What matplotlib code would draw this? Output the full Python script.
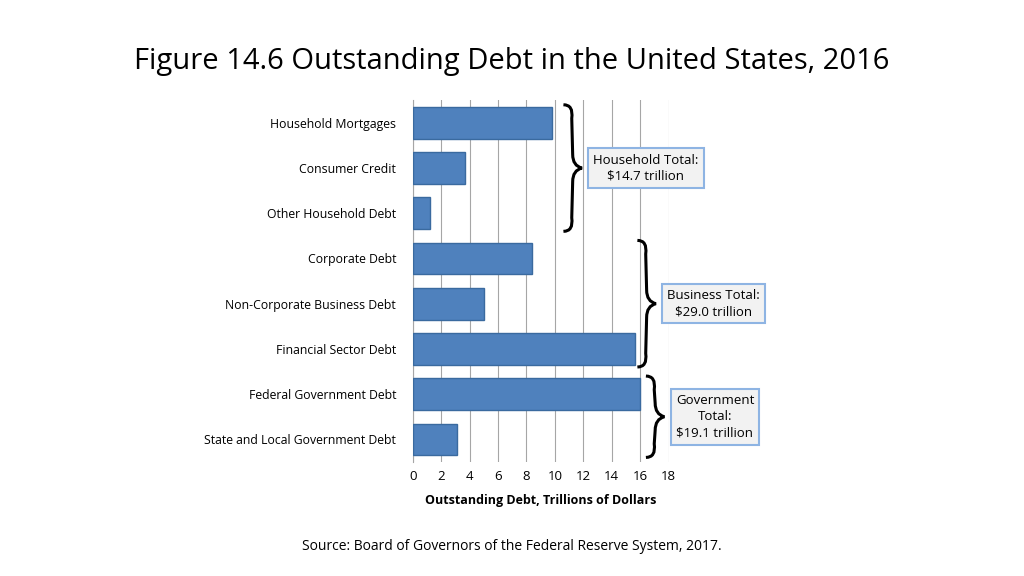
import matplotlib.pyplot as plt
import numpy as np
from matplotlib.path import Path
from matplotlib.patches import PathPatch

categories = ["Household Mortgages", "Consumer Credit", "Other Household Debt",
              "Corporate Debt", "Non-Corporate Business Debt", "Financial Sector Debt",
              "Federal Government Debt", "State and Local Government Debt"]
values = [9.8, 3.65, 1.25, 8.4, 5.05, 15.6, 16.0, 3.1]
x_ticks = [0, 2, 4, 6, 8, 10, 12, 14, 16, 18]
groups = [("Household Total:\n$14.7 trillion", 0, 2, 10.6),
          ("Business Total:\n$29.0 trillion", 3, 5, 15.8),
          ("Government\nTotal:\n$19.1 trillion", 6, 7, 16.4)]

plt.rcParams["font.family"] = "Open Sans"
fig = plt.figure(figsize=(10.24, 5.76), dpi=100)
fig.text(0.5, 0.88, "Figure 14.6 Outstanding Debt in the United States, 2016",
         ha="center", fontsize=21)
fig.text(0.5, 0.045, "Source: Board of Governors of the Federal Reserve System, 2017.",
         ha="center", fontsize=10)

ax = fig.add_axes([0.403, 0.198, 0.25, 0.628])
y = np.arange(len(categories))
ax.barh(y, values, height=0.7, color="#4F81BD", edgecolor="#3A6A9F", zorder=3)
ax.set_ylim(len(categories) - 0.5, -0.5)
ax.set_xlim(0, 18)
ax.set_xticks(x_ticks)
ax.set_yticks(y)
ax.set_yticklabels(categories, fontsize=8.8)
ax.tick_params(axis="x", labelsize=9.5, length=0, pad=6)
ax.tick_params(axis="y", length=0, pad=12)
ax.grid(axis="x", color="#A6A6A6", linewidth=0.8, zorder=0)
for s in ["top", "right", "bottom"]:
    ax.spines[s].set_visible(False)
ax.spines["left"].set_color("#A6A6A6")
ax.set_xlabel("Outstanding Debt, Trillions of Dollars", fontsize=9, fontweight="bold",
              labelpad=8)


def brace(ax, x0, y0, y1, w=1.3):
    xm = x0 + w
    ym = (y0 + y1) / 2
    verts = [(x0, y0), (x0 + w * 0.55, y0), (x0 + w * 0.45, y0 + 0.3),
             (x0 + w * 0.5, ym - 0.3), (x0 + w * 0.5, ym - 0.05), (xm, ym),
             (x0 + w * 0.5, ym + 0.05), (x0 + w * 0.5, ym + 0.3),
             (x0 + w * 0.45, y1 - 0.3), (x0 + w * 0.55, y1), (x0, y1)]
    codes = [Path.MOVETO, Path.CURVE3, Path.CURVE3, Path.LINETO, Path.CURVE3, Path.CURVE3,
             Path.CURVE3, Path.CURVE3, Path.LINETO, Path.CURVE3, Path.CURVE3]
    ax.add_patch(PathPatch(Path(verts, codes), fill=False, lw=2.2, color="black",
                           clip_on=False, zorder=4))
    return xm


for label, a, b, x0 in groups:
    xm = brace(ax, x0, a - 0.4, b + 0.4)
    ax.text(xm + 0.8, (a + b) / 2, label, ha="left", va="center", fontsize=9.5,
            multialignment="center", linespacing=1.3, clip_on=False,
            bbox=dict(boxstyle="square,pad=0.4", fc="#F2F2F2", ec="#8EB4E3", lw=1.5))

fig.savefig("out.png", dpi=100)
